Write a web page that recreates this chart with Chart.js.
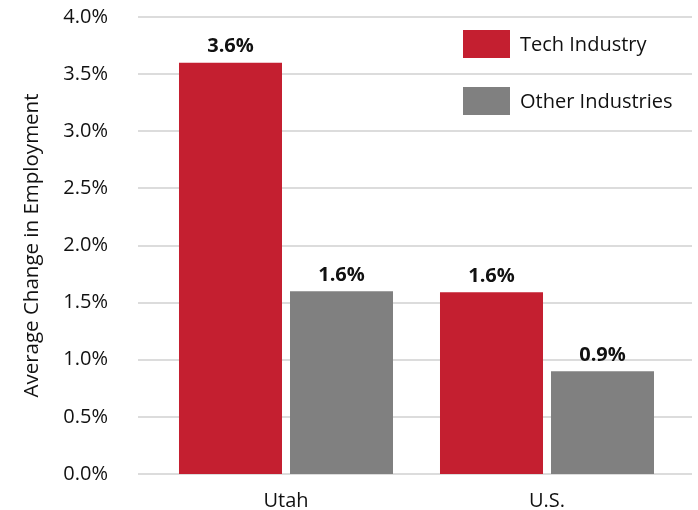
<!DOCTYPE html>
<html>
<head>
<meta charset="utf-8">
<script src="https://cdn.jsdelivr.net/npm/chart.js@4/dist/chart.umd.min.js"></script>
<style>
  html, body { margin: 0; padding: 0; background: #fff; }
  #wrap { width: 698px; height: 510px; position: relative; }
</style>
</head>
<body>
<div id="wrap"><canvas id="empChart"></canvas></div>
<script>
const regions = ["Utah", "U.S."];
const techIndustry = [3.6, 1.59];
const otherIndustries = [1.6, 0.9];
const seriesNames = ["Tech Industry", "Other Industries"];
const yTicks = [0, 0.5, 1.0, 1.5, 2.0, 2.5, 3.0, 3.5, 4.0];

const RED = "#c41f30";
const GREY = "#808080";
const FONT = "'Open Sans', sans-serif";

// grid lines wider than the plot area, like the original
const gridPlugin = {
  id: "wideGrid",
  beforeDatasetsDraw(chart) {
    const ctx = chart.ctx;
    const y = chart.scales.y;
    const area = chart.chartArea;
    ctx.save();
    ctx.strokeStyle = "#dcdcdc";
    ctx.lineWidth = 2;
    yTicks.forEach(v => {
      const py = Math.round(y.getPixelForValue(v));
      ctx.beginPath();
      ctx.moveTo(area.left - 17.5, py);
      ctx.lineTo(area.right + 14.5, py);
      ctx.stroke();
    });
    ctx.restore();
  }
};

// value labels above bars
const valueLabels = {
  id: "valueLabels",
  afterDatasetsDraw(chart) {
    const ctx = chart.ctx;
    ctx.save();
    ctx.font = "bold 20px " + FONT;
    ctx.fillStyle = "#111";
    ctx.textAlign = "center";
    ctx.textBaseline = "bottom";
    chart.data.datasets.forEach((ds, i) => {
      chart.getDatasetMeta(i).data.forEach((bar, j) => {
        ctx.fillText(ds.data[j].toFixed(1) + "%", bar.x, bar.y - 6);
      });
    });
    ctx.restore();
  }
};

// legend inside the plot, top right
const boxLegend = {
  id: "boxLegend",
  afterDraw(chart) {
    const ctx = chart.ctx;
    const area = chart.chartArea;
    const x0 = area.right - 214.5;
    ctx.save();
    ctx.font = "20px " + FONT;
    ctx.textBaseline = "middle";
    chart.data.datasets.forEach((ds, i) => {
      const top = area.top + 13 + i * 57;
      ctx.fillStyle = ds.backgroundColor;
      ctx.fillRect(x0, top, 47, 28);
      ctx.fillStyle = "#111";
      ctx.fillText(ds.label, x0 + 57, top + 15);
    });
    ctx.restore();
  }
};

const ctx = document.getElementById("empChart").getContext("2d");
new Chart(ctx, {
  type: "bar",
  data: {
    labels: regions,
    datasets: [
      {
        label: seriesNames[0],
        backgroundColor: RED,
        data: techIndustry
      },
      {
        label: seriesNames[1],
        backgroundColor: GREY,
        data: otherIndustries
      }
    ]
  },
  options: {
    responsive: true,
    maintainAspectRatio: false,
    animation: false,
    layout: { padding: { top: 17, right: 20.5, left: 0, bottom: 0 } },
    categoryPercentage: 0.8506,
    barPercentage: 0.928,
    scales: {
      x: {
        grid: { display: false, drawTicks: false },
        border: { display: false },
        ticks: { color: "#111", font: { family: FONT, size: 20 }, padding: 15 },
        afterFit(scale) { scale.height = 36; }
      },
      y: {
        min: 0,
        max: 4,
        grid: { display: false, drawTicks: false },
        border: { display: false },
        afterBuildTicks(scale) { scale.ticks = yTicks.map(v => ({ value: v })); },
        ticks: {
          color: "#111",
          padding: 47.5,
          font: { family: FONT, size: 20 },
          callback: v => v.toFixed(1) + "%"
        },
        title: {
          display: true,
          text: "Average Change in Employment",
          color: "#111",
          font: { family: FONT, size: 20.5 },
          padding: { top: 20, bottom: 0 }
        },
        afterFit(scale) {
          scale.width = 155.5;
          // tick padding is only meant horizontally
          scale.paddingTop = 12;
          scale.paddingBottom = 0;
        }
      }
    },
    plugins: {
      legend: { display: false },
      tooltip: { enabled: false }
    }
  },
  plugins: [gridPlugin, valueLabels, boxLegend]
});
</script>
</body>
</html>
